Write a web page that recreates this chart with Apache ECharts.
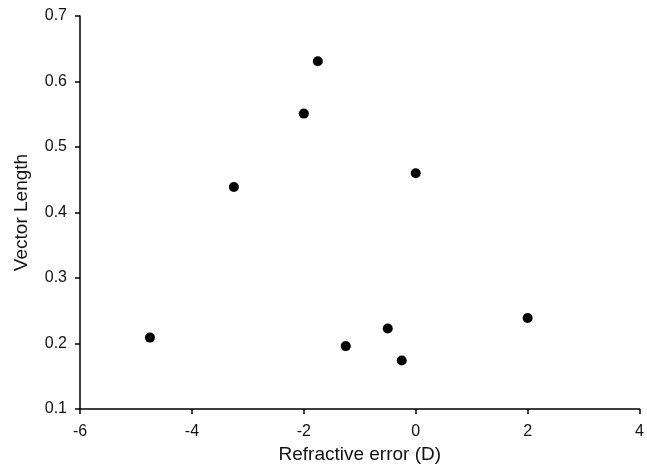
<!DOCTYPE html>
<html><head><meta charset="utf-8">
<script src="https://cdn.jsdelivr.net/npm/echarts@6/dist/echarts.min.js"></script>
<style>html,body{margin:0;padding:0;background:#fff}#c{width:647px;height:474px}</style>
</head><body><div id="c"></div>
<script>
const refractiveError = [-4.75, -3.25, -2, -1.75, -1.25, -0.5, -0.25, 0, 2];
const vectorLength = [0.209, 0.439, 0.551, 0.631, 0.196, 0.223, 0.174, 0.46, 0.239];
const xTicks = [-6, -4, -2, 0, 2, 4];
const yTicks = [0.1, 0.2, 0.3, 0.4, 0.5, 0.6, 0.7];

const font = 'Liberation Sans, Arial, sans-serif';
const chart = echarts.init(document.getElementById('c'), null, {renderer: 'canvas'});
chart.setOption({
  animation: false,
  backgroundColor: '#fff',
  grid: {left: 80, right: 6, top: 16, bottom: 65, containLabel: false},
  xAxis: {
    type: 'value', min: xTicks[0], max: xTicks[xTicks.length - 1], interval: 2,
    name: 'Refractive error (D)', nameLocation: 'middle', nameGap: 33,
    nameTextStyle: {fontFamily: font, fontSize: 19, color: '#111'},
    axisLine: {show: true, onZero: false, lineStyle: {color: '#000', width: 1.5}},
    axisTick: {show: true, inside: false, length: 5, lineStyle: {color: '#000', width: 1.5}},
    axisLabel: {fontFamily: font, fontSize: 16, color: '#111', margin: 15},
    splitLine: {show: false}
  },
  yAxis: {
    type: 'value', min: yTicks[0], max: yTicks[yTicks.length - 1], interval: 0.1,
    name: 'Vector Length', nameLocation: 'middle', nameGap: 49,
    nameTextStyle: {fontFamily: font, fontSize: 19, color: '#111'},
    axisLine: {show: true, onZero: false, lineStyle: {color: '#000', width: 1.5}},
    axisTick: {show: true, inside: false, length: 5, lineStyle: {color: '#000', width: 1.5}},
    axisLabel: {fontFamily: font, fontSize: 16, color: '#111', margin: 13,
      formatter: v => v.toFixed(1)},
    splitLine: {show: false}
  },
  series: [{
    type: 'scatter',
    symbol: 'circle',
    symbolSize: 10,
    itemStyle: {color: '#000', opacity: 1},
    data: refractiveError.map((x, i) => [x, vectorLength[i]])
  }]
});
</script></body></html>
